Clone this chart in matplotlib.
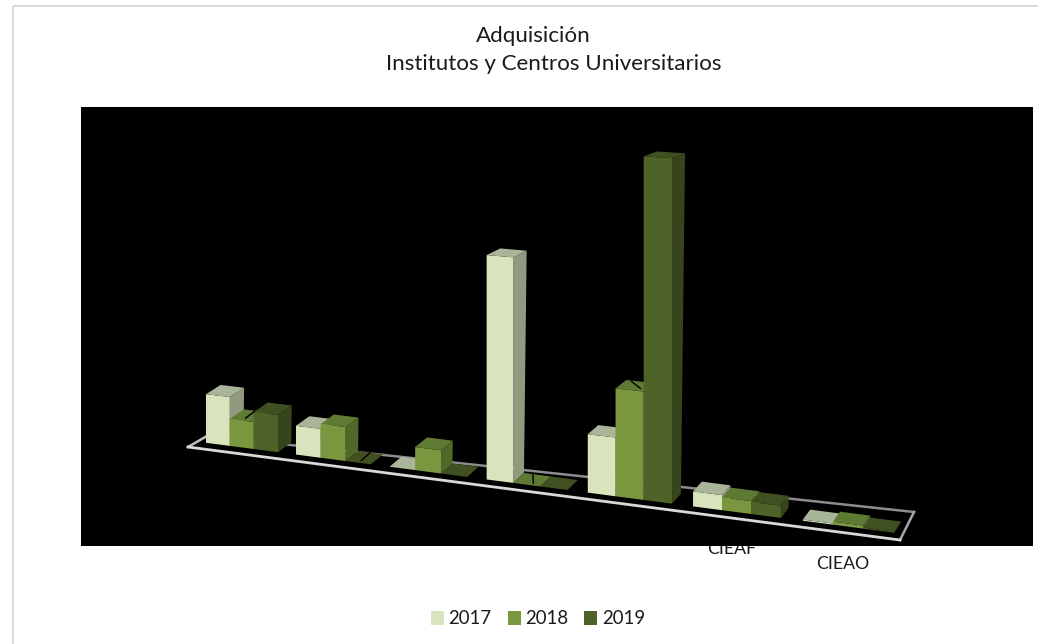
import matplotlib
matplotlib.use("Agg")
import matplotlib.pyplot as plt
from matplotlib.patches import Polygon, Rectangle

plt.rcParams['font.family'] = ['Lato', 'DejaVu Sans']

categories = ['', '', '', '', '', 'CIEAF', 'CIEAO']
series_names = ['2017', '2018', '2019']
values_2017 = [14.3, 8.3, 0, 62.3, 15.9, 4.0, 0.3]
values_2018 = [7.9, 9.7, 6.5, 0, 29.2, 3.4, 0.8]
values_2019 = [10.8, 0, 0, 0, 92.5, 3.2, 0.3]
front_colors = ['#D7E4BC', '#7A963E', '#4F6228']
top_colors = ['#A9B598', '#5F7A32', '#405020']
side_colors = ['#8F9A7E', '#52682B', '#36451B']

BAR_W = 0.268
K = 0.0187
VALUE_SCALE = 3.4


def persp(x):
    return 1 / (1 - K * x)


def screen_x(x):
    return 206 + 88.3 * x * persp(x)


def project(x, d, v):
    """Slot position x, depth fraction d (0 front, 1 back), value v -> canvas point."""
    px = screen_x(x)
    h = v * VALUE_SCALE * persp(x)
    py = 442.8 + 0.1306 * (px - 206) - h
    dx = 14 - 0.011 * (px - 206) + 0.012 * h
    dy = -10 + 0.015 * h
    return (px + d * dx, py + d * dy)


fig = plt.figure(figsize=(10.38, 6.44), dpi=100, facecolor='white')
ax = fig.add_axes([0, 0, 1, 1])
ax.set_xlim(0, 1038)
ax.set_ylim(644, 0)
ax.axis('off')

ax.add_patch(Rectangle((12.5, 5.5), 1030, 640, fill=False, ec='#D9D9D9', lw=1.4, zorder=0.2))
ax.add_patch(Rectangle((81, 107), 952, 439, fc='black', ec='none', zorder=1))

# floor frame
ax.plot([207, 914], [436, 512], color='#8C8C8C', lw=1.8, zorder=1.5)
ax.plot([207, 188], [436, 447], color='#BFBFBF', lw=1.8, zorder=1.5)
ax.plot([900, 914], [540, 512], color='#A6A6A6', lw=1.8, zorder=1.5)
ax.plot([188, 900], [447, 540], color='#D9D9D9', lw=2, zorder=1.5)

z = 2.0
all_values = [values_2017, values_2018, values_2019]
for i in range(len(categories)):
    for s, vals in enumerate(all_values):
        x0 = i + s * BAR_W
        x1 = x0 + BAR_W
        v = vals[i]
        a, b = x0, x1
        if v > 0:
            ax.add_patch(Polygon([project(b, 0, 0), project(b, 1, 0), project(b, 1, v), project(b, 0, v)],
                                 fc=side_colors[s], ec='none', zorder=z))
            ax.add_patch(Polygon([project(a, 0, 0), project(b, 0, 0), project(b, 0, v), project(a, 0, v)],
                                 fc=front_colors[s], ec='none', zorder=z + 0.01))
        ax.add_patch(Polygon([project(a, 0, v), project(b, 0, v), project(b, 1, v), project(a, 1, v)],
                             fc=top_colors[s], ec='none', zorder=z + 0.02))
        z += 0.1

# small black nicks left over on some bars: category, series, value, half-extent in x and y
for cat, s, v, hx, hy in [(0, 1, 7.9, 4.5, -3.5), (1, 2, 0, 4.5, -4), (3, 1, 0, 0.3, 4.5), (4, 1, 29.2, 4.5, 3.5)]:
    px, py = project(cat + (s + 0.5) * BAR_W, 0.6, v)
    ax.plot([px - hx, px + hx], [py - hy, py + hy], color='black', lw=1, zorder=9)

for i, name in enumerate(categories):
    if name:
        px, py = project(i + 0.4, 0, 0)
        ax.text(px - 5, py + 37, name, ha='center', va='center', fontsize=12.7, color='#1A1A1A', zorder=0.5)

ax.text(533.5, 36, 'Adquisición', ha='center', va='center', fontsize=16.1, color='#1A1A1A')
ax.text(553.5, 64, 'Institutos y Centros Universitarios', ha='center', va='center', fontsize=16.1, color='#1A1A1A')

handles = [Rectangle((0, 0), 1, 1, fc=c, ec='none') for c in front_colors]
ax.legend(handles, series_names, loc='center', bbox_to_anchor=(538, 619), bbox_transform=ax.transData,
          ncol=3, frameon=False, fontsize=13.4, handlelength=0.7, handleheight=0.7,
          handletextpad=0.25, columnspacing=0.85, labelcolor='#1A1A1A')

fig.savefig('out.png', dpi=100, facecolor='white')
